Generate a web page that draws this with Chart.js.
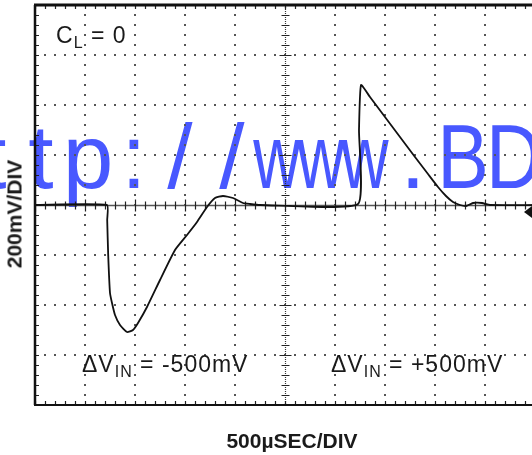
<!DOCTYPE html>
<html>
<head>
<meta charset="utf-8">
<script src="https://cdn.jsdelivr.net/npm/chart.js@4"></script>
<style>
  html, body { margin: 0; padding: 0; background: #fff; overflow: hidden; }
  #wrap { position: relative; width: 540px; height: 455px; }
  #scope { position: absolute; left: 0; top: 0; z-index: 1; }
  .txt { position: absolute; font-family: "Liberation Sans", Arial, sans-serif; color: #1a1a1a; white-space: nowrap; line-height: 1; z-index: 2; }
  .note { font-size: 23px; letter-spacing: 1px; }
  .note sub { font-size: 16px; vertical-align: -5px; line-height: 0; }
  .axis { font-weight: bold; font-size: 21px; }
  #mark { position: absolute; left: 0; top: 111px; width: 540px; height: 110px; z-index: 0;
          font-family: "Liberation Sans", Arial, sans-serif; font-size: 91px; line-height: 91px; color: #4858ff; }
  #mark span { position: absolute; top: 0; transform: translateX(-50%); white-space: nowrap; }
  #mark span.n { transform: translateX(-50%) scaleX(0.72); }
  #mark span.c { transform: translateX(-50%) scaleX(0.85); }
</style>
</head>
<body>
<div id="wrap">
  <div id="mark"><span style="left:-50px">h</span><span style="left:-6px">t</span><span style="left:41px">t</span><span style="left:88px">p</span><span style="left:134px">:</span><span style="left:180px">/</span><span style="left:232px">/</span><span class="n" style="left:277px">w</span><span class="n" style="left:321px">w</span><span class="n" style="left:365px">w</span><span style="left:413px">.</span><span class="c" style="left:463px">B</span><span class="c" style="left:514px">D</span></div>
  <canvas id="scope" width="540" height="455"></canvas>
  <div class="txt note" style="left:56px; top:24px;">C<sub>L</sub> = 0</div>
  <div class="txt note" style="left:82px; top:353px;">&Delta;V<sub>IN</sub> = -500mV</div>
  <div class="txt note" style="left:331px; top:353px;">&Delta;V<sub>IN</sub> = +500mV</div>
  <div class="txt axis" style="left:14px; top:214px; transform: translate(-50%, -50%) rotate(-90deg);">200mV/DIV</div>
  <div class="txt axis" style="left:292px; top:430px; transform: translateX(-50%);">500&micro;SEC/DIV</div>
</div>
<script>
// scope trace, 500us/div and 200mV/div
const timeUs = [0, 720, 722, 732, 750, 770, 800, 850, 920, 980,
  1030, 1120, 1250, 1400, 1520, 1620, 1720, 1800, 1880, 1980,
  2080, 2150, 2250, 3230, 3240, 3260, 3350, 3500, 3650, 3800,
  3930, 4030, 4110, 4180, 4250, 4310, 4380, 4470, 4550, 5000];
const voltageMv = [0, 0, -60, -200, -352, -392, -440, -480, -508, -500,
  -472, -408, -300, -180, -120, -68, -8, 28, 36, 28,
  8, 4, 0, 4, 300, 480, 432, 352, 272, 192,
  124, 72, 36, 12, 0, -4, 8, 8, 0, 0];

const xDivs = [0, 500, 1000, 1500, 2000, 2500, 3000, 3500, 4000, 4500, 5000];
const yDivs = [-800, -600, -400, -200, 0, 200, 400, 600, 800];

const points = timeUs.map((t, i) => ({ x: t, y: voltageMv[i] }));

// graticule: dotted grid, centre cross with ticks, heavy frame
const scopeGrid = {
  id: "scopeGrid",
  beforeDatasetsDraw(chart) {
    const { ctx, chartArea: a, scales: { x, y } } = chart;
    ctx.save();
    ctx.fillStyle = "#555";
    xDivs.forEach((t) => {
      if (t === 0 || t === 2500 || t === 5000) return;
      const px = Math.round(x.getPixelForValue(t));
      for (let v = -800; v <= 800; v += 40) {
        const py = Math.round(y.getPixelForValue(v));
        ctx.fillRect(px - 1, py - 1, 2, 2);
      }
    });
    yDivs.forEach((v) => {
      if (v === 0 || v === -800 || v === 800) return;
      const py = Math.round(y.getPixelForValue(v));
      for (let t = 0; t <= 5000; t += 100) {
        const px = Math.round(x.getPixelForValue(t));
        ctx.fillRect(px - 1, py - 1, 2, 2);
      }
    });

    // centre horizontal
    const y0 = Math.round(y.getPixelForValue(0)) + 0.5;
    ctx.strokeStyle = "#555";
    ctx.lineWidth = 1.6;
    ctx.beginPath();
    ctx.moveTo(a.left, y0);
    ctx.lineTo(a.right, y0);
    ctx.stroke();
    // centre vertical
    const x0 = Math.round(x.getPixelForValue(2500)) + 0.5;
    ctx.strokeStyle = "#333";
    ctx.lineWidth = 1.2;
    ctx.setLineDash([1, 1]);
    ctx.beginPath();
    ctx.moveTo(x0, a.top);
    ctx.lineTo(x0, a.bottom);
    ctx.stroke();
    ctx.setLineDash([]);

    ctx.strokeStyle = "#222";
    ctx.lineWidth = 1.2;
    ctx.beginPath();
    for (let t = 0; t <= 5000; t += 100) {
      const px = Math.round(x.getPixelForValue(t)) + 0.5;
      const len = t % 500 === 0 ? 6 : 4;
      ctx.moveTo(px, y0 - len);
      ctx.lineTo(px, y0 + len);
      // top and bottom frame ticks
      ctx.moveTo(px, a.top);
      ctx.lineTo(px, a.top + 4);
      ctx.moveTo(px, a.bottom);
      ctx.lineTo(px, a.bottom - 4);
    }
    for (let v = -800; v <= 800; v += 40) {
      const py = Math.round(y.getPixelForValue(v)) + 0.5;
      const len = v % 200 === 0 ? 6 : 4;
      ctx.moveTo(x0 - len, py);
      ctx.lineTo(x0 + len, py);
      ctx.moveTo(a.left, py);
      ctx.lineTo(a.left + 4, py);
    }
    ctx.stroke();

    // frame
    ctx.strokeStyle = "#111";
    ctx.lineWidth = 3;
    ctx.beginPath();
    ctx.moveTo(a.left - 1, a.top);
    ctx.lineTo(a.right + 2, a.top);
    ctx.stroke();
    ctx.lineWidth = 2.5;
    ctx.beginPath();
    ctx.moveTo(a.left, a.top);
    ctx.lineTo(a.left, a.bottom);
    ctx.stroke();
    ctx.lineWidth = 2;
    ctx.beginPath();
    ctx.moveTo(a.left - 1, a.bottom);
    ctx.lineTo(a.right + 2, a.bottom);
    ctx.stroke();

    // ground marker at right edge
    const gy = y.getPixelForValue(-28);
    ctx.fillStyle = "#111";
    ctx.beginPath();
    ctx.moveTo(a.right - 11, gy);
    ctx.lineTo(a.right - 3, gy - 6);
    ctx.lineTo(a.right - 3, gy + 6);
    ctx.closePath();
    ctx.fill();
    ctx.restore();
  }
};

new Chart(document.getElementById("scope"), {
  type: "scatter",
  data: {
    datasets: [{
      data: points,
      showLine: true,
      borderColor: "#111",
      borderWidth: 1.8,
      pointRadius: 0,
      tension: 0.15
    }]
  },
  options: {
    responsive: false,
    animation: false,
    devicePixelRatio: 1,
    layout: { padding: { left: 35, top: 5, right: 5, bottom: 50 } },
    plugins: { legend: { display: false }, tooltip: { enabled: false } },
    scales: {
      x: { type: "linear", min: 0, max: 5000, display: false },
      y: { type: "linear", min: -800, max: 800, display: false }
    }
  },
  plugins: [scopeGrid]
});
</script>
</body>
</html>
